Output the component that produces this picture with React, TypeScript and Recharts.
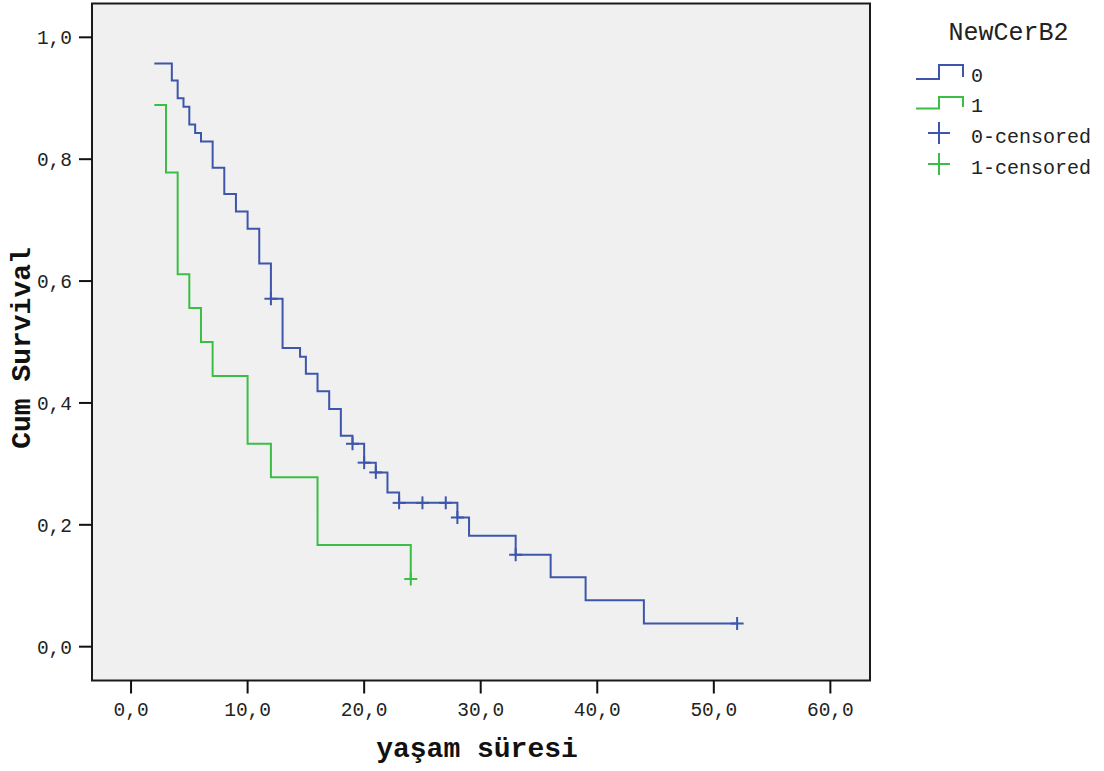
import React from 'react'
import {
  ComposedChart,
  Line,
  Scatter,
  XAxis,
  YAxis,
  ReferenceArea,
  Legend,
} from 'recharts'

// group 0 (NewCerB2 = 0)
const times0 = [2, 3.5, 4, 4.5, 5, 5.5, 6, 7, 8, 9, 10, 11, 12, 13, 14.5, 15, 16, 17, 18, 19, 20, 21, 22, 23, 28, 29, 33, 36, 39, 44, 52]
const surv0 = [0.957, 0.929, 0.9, 0.886, 0.857, 0.843, 0.829, 0.786, 0.743, 0.714, 0.686, 0.629, 0.571, 0.49, 0.476, 0.448, 0.419, 0.39, 0.346, 0.333, 0.302, 0.286, 0.253, 0.236, 0.212, 0.182, 0.151, 0.114, 0.076, 0.038, 0.038]
const censorTimes0 = [12, 19, 20, 21, 23, 25, 27, 28, 33, 52]
const censorSurv0 = [0.571, 0.333, 0.302, 0.286, 0.236, 0.236, 0.236, 0.212, 0.151, 0.038]

// group 1 (NewCerB2 = 1)
const times1 = [2, 3, 4, 5, 6, 7, 10, 12, 16, 24]
const surv1 = [0.889, 0.778, 0.611, 0.556, 0.5, 0.444, 0.333, 0.278, 0.167, 0.111]
const censorTimes1 = [24]
const censorSurv1 = [0.111]

const xTicks = [0, 10, 20, 30, 40, 50, 60]
const yTicks = [0, 0.2, 0.4, 0.6, 0.8, 1]
const legendTitle = 'NewCerB2'
const legendLabels = ['0', '1', '0-censored', '1-censored']
const xTitle = 'yaşam süresi'
const yTitle = 'Cum Survival'

const BLUE = '#3d55ab'
const GREEN = '#3cbd45'
const FONT = '"Liberation Mono", "Courier New", monospace'

const X_DOMAIN = [-3.35, 63.4]
const Y_DOMAIN = [-0.0555, 1.0555]

const toRows = (t: number[], s: number[]) => t.map((v, i) => ({ t: v, s: s[i] }))

const line0 = toRows(times0, surv0)
const line1 = toRows(times1, surv1)
const cens0 = toRows(censorTimes0, censorSurv0)
const cens1 = toRows(censorTimes1, censorSurv1)

const comma = (v: number) => v.toFixed(1).replace('.', ',')

const plus = (color: string, r: number) => (props: any) => {
  const { cx, cy } = props
  return (
    <g stroke={color} strokeWidth={2}>
      <line x1={cx - r} y1={cy} x2={cx + r} y2={cy} />
      <line x1={cx} y1={cy - r} x2={cx} y2={cy + r} />
    </g>
  )
}

const renderLegend = () => {
  const rows = [82, 112, 143, 173.5]
  return (
    <svg width={204} height={190} style={{ display: 'block' }}>
      <text x={108.5} y={39.5} textAnchor="middle" fontFamily={FONT} fontSize={25} fill="#222">
        {legendTitle}
      </text>
      <path d={`M16 ${rows[0] - 3} H39 V${rows[0] - 17} H63 V${rows[0] - 5}`} fill="none" stroke={BLUE} strokeWidth={2} />
      <path d={`M16 ${rows[1] - 3.5} H39 V${rows[1] - 15} H63 V${rows[1] - 5}`} fill="none" stroke={GREEN} strokeWidth={2} />
      {plus(BLUE, 11)({ cx: 39, cy: 133 })}
      {plus(GREEN, 11)({ cx: 39, cy: 164 })}
      {legendLabels.map((lab, i) => (
        <text key={lab} x={71} y={rows[i]} fontFamily={FONT} fontSize={20} fill="#222">
          {lab}
        </text>
      ))}
    </svg>
  )
}

const tickStyle = { fontFamily: FONT, fontSize: 19.5, fill: '#222' }

export default function App() {
  return (
    <div style={{ position: 'absolute', left: 0, top: 0, background: '#fff' }}>
      <ComposedChart width={1104} height={771} margin={{ top: 3.5, right: 234, bottom: 0, left: 0 }}>
        <ReferenceArea
          x1={X_DOMAIN[0]}
          x2={X_DOMAIN[1]}
          y1={Y_DOMAIN[0]}
          y2={Y_DOMAIN[1]}
          fill="#f0f0f0"
          fillOpacity={1}
          stroke="#1a1a1a"
          strokeWidth={2}
          ifOverflow="visible"
        />
        <XAxis
          type="number"
          dataKey="t"
          domain={X_DOMAIN}
          allowDataOverflow
          ticks={xTicks}
          interval={0}
          tickFormatter={comma}
          axisLine={false}
          tickLine={{ stroke: '#111', strokeWidth: 2 }}
          tickSize={13}
          tickMargin={9}
          height={90.5}
          tick={tickStyle}
          label={() => (
            <text x={477} y={757} textAnchor="middle" fontFamily={FONT} fontSize={28} fontWeight="bold" fill="#111">
              {xTitle}
            </text>
          )}
        />
        <YAxis
          type="number"
          domain={Y_DOMAIN}
          allowDataOverflow
          ticks={yTicks}
          interval={0}
          tickFormatter={comma}
          axisLine={false}
          tickLine={{ stroke: '#111', strokeWidth: 2 }}
          tickSize={13}
          tickMargin={7}
          width={92}
          tick={tickStyle}
          label={() => (
            <text
              transform="translate(29.5,348) rotate(-90)"
              textAnchor="middle"
              fontFamily={FONT}
              fontSize={28}
              fontWeight="bold"
              fill="#111"
            >
              {yTitle}
            </text>
          )}
        />
        <Line
          data={line0}
          dataKey="s"
          type="stepAfter"
          stroke={BLUE}
          strokeWidth={2}
          dot={false}
          activeDot={false}
          isAnimationActive={false}
        />
        <Line
          data={line1}
          dataKey="s"
          type="stepAfter"
          stroke={GREEN}
          strokeWidth={2}
          dot={false}
          activeDot={false}
          isAnimationActive={false}
        />
        <Scatter data={cens0} dataKey="s" shape={plus(BLUE, 6.5)} isAnimationActive={false} />
        <Scatter data={cens1} dataKey="s" shape={plus(GREEN, 6.5)} isAnimationActive={false} />
        <Legend
          content={renderLegend}
          layout="vertical"
          align="center"
          verticalAlign="middle"
          wrapperStyle={{ position: 'absolute', top: 0, left: 900, width: 204, height: 190 }}
        />
      </ComposedChart>
    </div>
  )
}
